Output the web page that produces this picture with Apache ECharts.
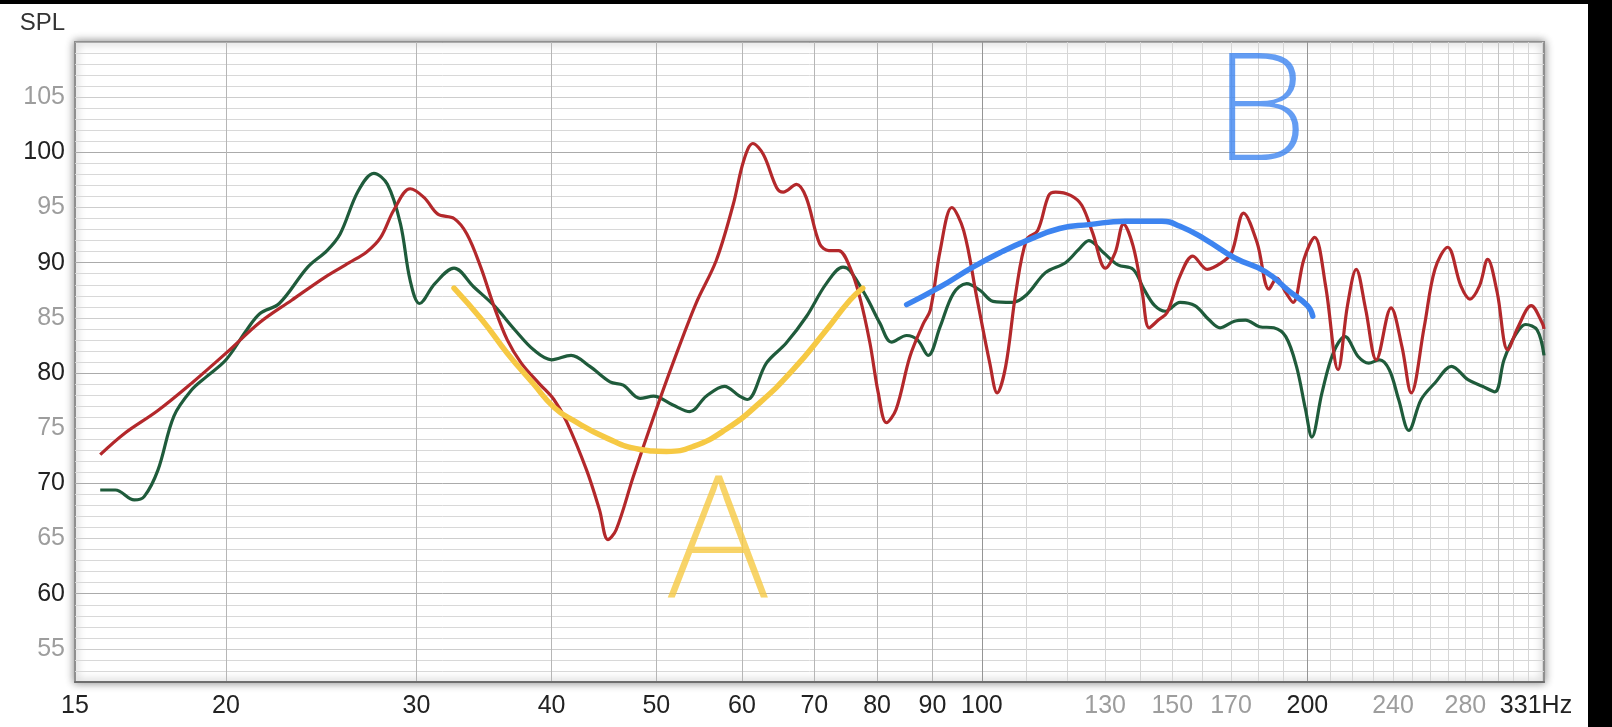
<!DOCTYPE html>
<html><head><meta charset="utf-8">
<script src="https://cdn.jsdelivr.net/npm/echarts@6/dist/echarts.min.js"></script>
<style>
html,body{margin:0;padding:0;background:#000;width:1612px;height:727px;overflow:hidden}
#chart{position:absolute;left:0;top:4px;width:1588px;height:723px;background:#fff}
</style>
</head><body><div id="chart"></div>
<script>
// ---- data: [frequency Hz, SPL dB] ----
const redCurve = [[15.3,72.6],[16.1,74.5],[17.3,76.6],[18.6,79.1],[20,81.8],[21.5,84.6],[23,86.6],[24.7,88.7],[26,90.0],[27.0,91.0],[27.8,92.3],[28.6,94.8],[29.6,96.7],[30.5,95.9],[31.4,94.4],[32.5,94.0],[33.4,92.6],[34.4,89.6],[35.4,86.0],[36.4,83.0],[37.5,80.9],[39.0,79.0],[40.2,77.6],[41.3,75.6],[43.1,71.2],[44.3,67.6],[45.1,64.9],[45.9,65.8],[47.6,70.6],[49.7,76.0],[51.8,80.9],[54.4,86.3],[56.8,90.2],[58.9,95.3],[60.2,99.2],[61.4,100.8],[62.8,99.8],[64.6,96.8],[65.5,96.4],[67.4,97.1],[68.8,95.9],[70.8,91.7],[72.2,91.1],[73.7,91.1],[75.5,89.6],[77.1,86.9],[78.8,82.7],[80.2,78.2],[81.6,75.5],[83.3,76.7],[85.8,81.5],[88.3,84.5],[89.6,85.7],[91.5,91.1],[93.8,95.0],[96.2,92.9],[98.9,86.9],[101.7,80.9],[103.3,78.2],[105.2,80.6],[107.5,87.3],[110,92.1],[112.6,92.9],[115.3,96.1],[117,96.4],[120.8,96.1],[123.7,95.2],[126.6,92.7],[130.1,89.5],[132.8,90.9],[135.2,93.5],[138,91.5],[140.7,87.3],[142.8,84.1],[145.6,84.8],[148.4,85.5],[152.5,88.8],[156.7,90.6],[161.6,89.4],[166.6,90.0],[170.2,90.9],[174.6,94.5],[179.7,91.8],[184.3,87.6],[187.4,88.6],[191,87.3],[194,86.4],[198.5,90.3],[203.1,92.3],[207.9,87.9],[213.5,80.3],[217.8,86.1],[221.9,89.4],[226.4,85.8],[231.6,81.2],[239,85.9],[244.6,82.4],[249.5,78.2],[256.5,84.2],[262.4,89.4],[269.6,91.4],[277.3,87.9],[282.7,86.7],[288.5,87.9],[293.6,90.3],[299.6,87.3],[306.4,82.1],[313.3,84.2],[322.1,86.1],[329.9,84.5],[331,84.0]];
const greenCurve = [[15.3,69.4],[15.8,69.4],[16.45,68.5],[16.8,68.8],[17.3,71.2],[17.9,76.1],[18.6,78.5],[19.2,79.7],[20,81.2],[20.9,83.9],[21.5,85.4],[22.4,86.3],[23.8,89.6],[24.8,91.1],[25.5,92.6],[26.5,96.5],[27.4,98.1],[28.2,97.1],[29.0,93.5],[29.6,88.4],[30.2,86.3],[31.2,88.1],[32.5,89.5],[33.9,87.8],[35.4,86.1],[37.0,83.9],[38.5,82.1],[40,81.2],[41.7,81.6],[43.4,80.6],[45.3,79.2],[46.6,78.9],[48.3,77.7],[49.7,77.9],[51.8,77.1],[53.7,76.5],[55.6,77.9],[57.8,78.8],[59.7,77.9],[60.7,77.6],[63.2,80.9],[65.9,82.7],[68.8,85.1],[71.8,88.1],[74.4,89.6],[75.5,89.3],[78.2,86.9],[80.5,84.5],[82.5,82.8],[85.2,83.4],[87.2,83.0],[89.2,81.6],[91.5,84.2],[94.1,87.2],[96.8,88.1],[99.6,87.5],[102.4,86.5],[106.7,86.4],[110,87.1],[114.5,89.1],[119.5,90.0],[122.9,91.2],[125.6,92.0],[129.6,90.9],[133.6,89.8],[138,89.4],[141.2,87.6],[144.5,86.1],[147.8,85.6],[152.5,86.4],[157.4,86.1],[162.3,84.8],[166.1,84.1],[171.2,84.7],[175.3,84.8],[180.6,84.2],[186.2,84.1],[191,83.3],[195.4,80.6],[199.2,76.7],[201.9,74.2],[206.3,78.2],[211.3,81.8],[216.7,83.3],[222.8,81.5],[227.9,80.9],[233.2,81.2],[238.1,80.3],[242.9,77.6],[248.2,74.8],[254.8,77.6],[262.4,79.1],[271.8,80.6],[281.5,79.4],[290.3,78.8],[298.1,78.3],[304,81.2],[310.8,83.3],[318.4,84.4],[326.2,83.9],[331,81.6]];
// hand-drawn annotations
const arcA = [[32.5,87.7],[34.5,84.8],[36.4,81.8],[38.5,79.0],[40.2,76.9],[41.9,75.7],[45,74.1],[48.2,73.1],[51.1,72.9],[54.1,73.35],[58,74.9],[62.3,77.3],[66.9,80.3],[71.8,83.9],[75.5,86.6],[77.6,87.7]];
const arcB = [[85.2,86.2],[91.5,87.8],[98.1,89.6],[104.4,91.0],[110,92.0],[118,93.1],[125.6,93.45],[135.7,93.75],[146.7,93.75],[152.5,93.3],[161,92.1],[171.2,90.45],[182.8,89.2],[192.5,87.4],[200,86.1],[202.3,85.15]];
const letterA = [[57.0,64.1]];
const letterB = [[181.0,103.2]];

// ---- axes ----
const xMin = 14.5, xMax = 331;
const yMin = 52, yMax = 110;
const xTickLabels = [14.5,20,30,40,50,60,70,80,90,100,130,150,170,200,240,280,331];
const xDarkLabels = [14.5,20,30,40,50,60,70,80,90,100,200,331];
const xGridValues = [20,30,40,50,60,70,80,90,100,110,120,130,140,150,160,170,180,190,200,210,220,230,240,250,260,270,280,290,300,310,320,330];
const yTickLabels = [55,60,65,70,75,80,85,90,95,100,105];
const yDarkLabels = [60,70,80,90,100];

const xGridColors = xGridValues.map(v => (v === 100 || v === 200) ? '#959595' : (v < 100 ? '#b6b6b6' : (v === 300 ? '#c4c4c4' : '#d6d6d6')));
const yGridColors = [];
for (let v = yMin; v <= yMax; v++) yGridColors.push(v % 10 === 0 ? '#ababab' : (v % 5 === 0 ? '#cdcdcd' : '#d8d8d8'));

const FONT = 'Liberation Sans';
const FS = 25;
const chart = echarts.init(document.getElementById('chart'), null, {renderer: 'canvas'});
chart.setOption({
  animation: false,
  backgroundColor: '#fff',
  grid: {left: 75, right: 44, top: 38, bottom: 45, show: true, backgroundColor: '#fff',
    borderColor: '#8f8f8f', borderWidth: 2, shadowBlur: 8, shadowColor: 'rgba(0,0,0,0.45)'},
  xAxis: {
    type: 'log', min: xMin, max: xMax,
    axisLine: {show: true, lineStyle: {color: '#6e6e6e', width: 2}},
    axisTick: {show: false, customValues: xGridValues},
    axisLabel: {
      customValues: xTickLabels, margin: 12, fontSize: FS, fontFamily: FONT,
      formatter: v => {
        const dark = xDarkLabels.indexOf(v) >= 0;
        if (v === xMax) return '{d|' + v + '}{hz|Hz}';
        return (dark ? '{d|' : '{g|') + Math.round(v) + '}';
      },
      rich: {
        d: {color: '#222', fontSize: FS, fontFamily: FONT},
        g: {color: '#9d9d9d', fontSize: FS, fontFamily: FONT},
        hz: {color: '#222', fontSize: FS, fontFamily: FONT, padding: [0, 16, 0, 0]}
      }
    },
    splitLine: {show: true, lineStyle: {color: xGridColors, width: 1}}
  },
  yAxis: {
    type: 'value', min: yMin, max: yMax, interval: 1,
    name: 'SPL', nameLocation: 'end', nameGap: 7,
    nameTextStyle: {color: '#333', fontSize: 24, fontFamily: FONT, align: 'right', padding: [0, 10, 0, 0]},
    axisLine: {show: false}, axisTick: {show: false},
    axisLabel: {
      customValues: yTickLabels, margin: 10, fontSize: FS, fontFamily: FONT,
      formatter: v => (yDarkLabels.indexOf(v) >= 0 ? '{d|' : '{g|') + v + '}',
      rich: {
        d: {color: '#222', fontSize: FS, fontFamily: FONT},
        g: {color: '#9d9d9d', fontSize: FS, fontFamily: FONT}
      }
    },
    splitLine: {show: true, lineStyle: {color: yGridColors, width: 1}}
  },
  series: [
    {name: 'green', type: 'line', data: greenCurve, showSymbol: false, smooth: 0.35, z: 3,
      lineStyle: {color: '#1f5b3b', width: 3.2}},
    {name: 'red', type: 'line', data: redCurve, showSymbol: false, smooth: 0.35, z: 4,
      lineStyle: {color: '#b3282b', width: 3.2}},
    {name: 'arcA', type: 'line', data: arcA, showSymbol: false, smooth: 0.5, z: 6,
      lineStyle: {color: '#f6c944', width: 5.5, cap: 'round'}},
    {name: 'arcB', type: 'line', data: arcB, showSymbol: false, smooth: 0.5, z: 6,
      lineStyle: {color: '#3d84f0', width: 5.5, cap: 'round'}},
    {name: 'A', type: 'scatter', data: letterA, symbolSize: 1, itemStyle: {color: 'rgba(0,0,0,0)'}, z: 7,
      label: {show: true, position: 'inside', formatter: 'A', color: '#f6c944', fontSize: 170, fontFamily: 'Noto Sans', fontWeight: 250, textBorderWidth: 0}},
    {name: 'B', type: 'scatter', data: letterB, symbolSize: 1, itemStyle: {color: 'rgba(0,0,0,0)'}, z: 7,
      label: {show: true, position: 'inside', formatter: 'B', color: '#3d84f0', fontSize: 150, fontFamily: 'Noto Sans', fontWeight: 250, textBorderWidth: 0}}
  ]
});
</script>
</body></html>
